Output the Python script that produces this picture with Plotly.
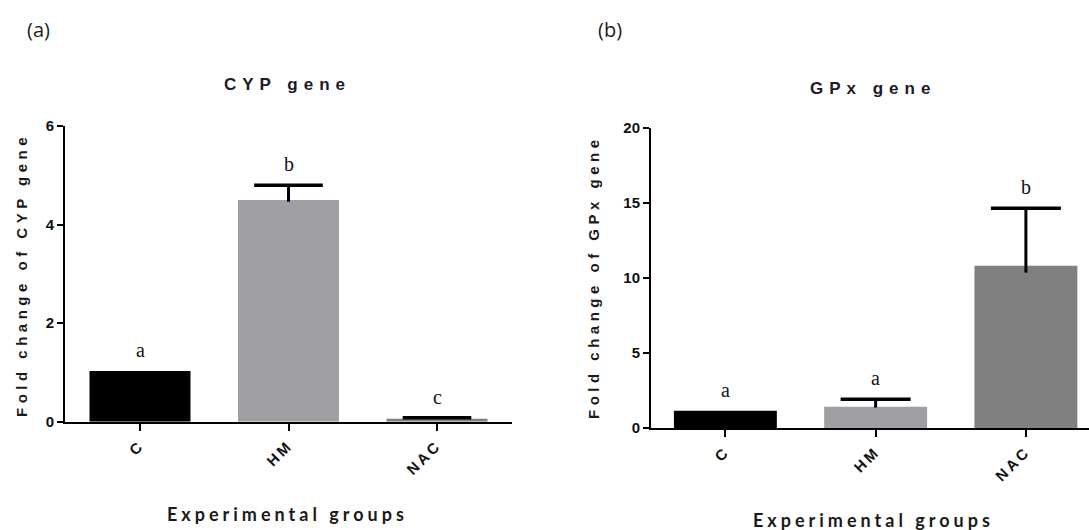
import plotly.graph_objects as go

W, H = 1089, 530

groups = ["C", "HM", "NAC"]
cyp_values = [1.03, 4.50, 0.06]
cyp_errors = [0.0, 0.30, 0.02]
cyp_letters = ["a", "b", "c"]
gpx_values = [1.15, 1.42, 10.82]
gpx_errors = [0.0, 0.49, 3.83]
gpx_letters = ["a", "a", "b"]
bar_colors = ["#000000", "#a0a0a4", "#808080"]
cyp_ticks = [0, 2, 4, 6]
gpx_ticks = [0, 5, 10, 15, 20]


def sp(text, ls):
    return f'<span style="letter-spacing:{ls}px">{text}</span>'


fig = go.Figure()


def add_panel(vals, errs, xa, ya, cap, bw):
    fig.add_trace(go.Bar(
        x=groups, y=vals, marker_color=bar_colors, width=bw, marker_line_width=0,
        xaxis=xa, yaxis=ya, showlegend=False, hoverinfo="skip"))
    # vertical stems of the (upper) error bars, starting slightly inside the bar
    base = [v - 0.12 * e if e > 0 else None for v, e in zip(vals, errs)]
    fig.add_trace(go.Scatter(
        x=groups, y=base, mode="markers", marker=dict(size=1, opacity=0),
        error_y=dict(type="data", array=[1.12 * e for e in errs], arrayminus=[0] * 3,
                     symmetric=False, color="black", thickness=3, width=0),
        xaxis=xa, yaxis=ya, showlegend=False, hoverinfo="skip"))
    # caps
    tops = [v + e if e > 0 else None for v, e in zip(vals, errs)]
    fig.add_trace(go.Scatter(
        x=groups, y=tops, mode="markers",
        marker=dict(symbol="line-ew", size=cap, line=dict(width=3.5, color="black")),
        xaxis=xa, yaxis=ya, showlegend=False, hoverinfo="skip"))


add_panel(cyp_values, cyp_errors, "x", "y", 49, 0.68)
add_panel(gpx_values, gpx_errors, "x2", "y2", 50, 0.685)

tickfont = dict(family="Liberation Sans, Arial", size=15, color="#111111", weight="bold")
ticktext = [sp(g, 3) for g in groups]

common_x = dict(showline=True, linecolor="black", linewidth=2, ticks="outside",
                ticklen=7, tickwidth=2, tickcolor="black", tickangle=-45,
                tickfont=tickfont, showgrid=False, zeroline=False, automargin=False,
                tickmode="array", tickvals=groups, ticktext=ticktext)
common_y = dict(showline=True, linecolor="black", linewidth=2, ticks="outside",
                ticklen=6, tickwidth=2, tickcolor="black", automargin=False,
                tickfont=dict(family="Liberation Sans, Arial", size=15, color="#111111",
                              weight="bold"),
                showgrid=False, zeroline=False)

fig.update_layout(
    template="none",
    width=W, height=H, margin=dict(l=0, r=0, t=0, b=0, pad=0, autoexpand=False),
    plot_bgcolor="white", paper_bgcolor="white",
    xaxis=dict(domain=[65 / W, 512 / W], range=[-0.505, 2.505], anchor="y", **common_x),
    yaxis=dict(domain=[(H - 421.7) / H, (H - 126) / H], range=[0, 6], anchor="x",
               tickvals=cyp_ticks, **common_y),
    xaxis2=dict(domain=[651 / W, 1.0], range=[-0.495, 2.42], anchor="y2", **common_x),
    yaxis2=dict(domain=[(H - 428) / H, (H - 128) / H], range=[0, 20], anchor="x2",
                tickvals=gpx_ticks, **common_y),
)

ann = []
for xref, yref, vals, errs, letters in [("x", "y", cyp_values, cyp_errors, cyp_letters),
                                         ("x2", "y2", gpx_values, gpx_errors, gpx_letters)]:
    for g, v, e, l in zip(groups, vals, errs, letters):
        ann.append(dict(x=g, y=v + e, xref=xref, yref=yref, text=l, showarrow=False,
                        yanchor="middle", yshift=21,
                        font=dict(family="Liberation Serif, Times New Roman", size=20,
                                  color="#111111")))

title_font = dict(family="Liberation Sans, Arial", size=17, color="#1a1a2a", weight="bold")
axis_font = dict(family="Liberation Sans, Arial", size=15, color="#1a1a1a", weight="bold")
lab_font = dict(family="Open Sans, Liberation Sans", size=20, color="#222222")
xt_font = dict(family="Lato, Open Sans", size=18, color="#1a1a1a", weight="bold")

ann += [
    dict(x=38 / W, y=1 - 30 / H, xref="paper", yref="paper", text="(a)", showarrow=False,
         font=lab_font, xanchor="center", yanchor="middle"),
    dict(x=610 / W, y=1 - 30 / H, xref="paper", yref="paper", text="(b)", showarrow=False,
         font=lab_font, xanchor="center", yanchor="middle"),
    dict(x=287 / W, y=1 - 85 / H, xref="paper", yref="paper", text=sp("CYP gene", 6),
         showarrow=False, font=title_font, xanchor="center", yanchor="middle"),
    dict(x=873 / W, y=1 - 89 / H, xref="paper", yref="paper", text=sp("GPx gene", 6),
         showarrow=False, font=title_font, xanchor="center", yanchor="middle"),
    dict(x=21 / W, y=1 - 275 / H, xref="paper", yref="paper",
         text=sp("Fold change of CYP gene", 4.5), textangle=-90,
         showarrow=False, font=axis_font, xanchor="center", yanchor="middle"),
    dict(x=593 / W, y=1 - 277 / H, xref="paper", yref="paper",
         text=sp("Fold change of GPx gene", 4.5), textangle=-90,
         showarrow=False, font=axis_font, xanchor="center", yanchor="middle"),
    dict(x=287 / W, y=1 - 514 / H, xref="paper", yref="paper",
         text=sp("Experimental groups", 4), showarrow=False, font=xt_font,
         xanchor="center", yanchor="middle"),
    dict(x=873 / W, y=1 - 520 / H, xref="paper", yref="paper",
         text=sp("Experimental groups", 4), showarrow=False, font=xt_font,
         xanchor="center", yanchor="middle"),
]
fig.update_layout(annotations=ann)

fig.write_html("out.html", config={"displayModeBar": False},
               post_script="document.body.style.margin='0';document.body.style.overflow='hidden';")
